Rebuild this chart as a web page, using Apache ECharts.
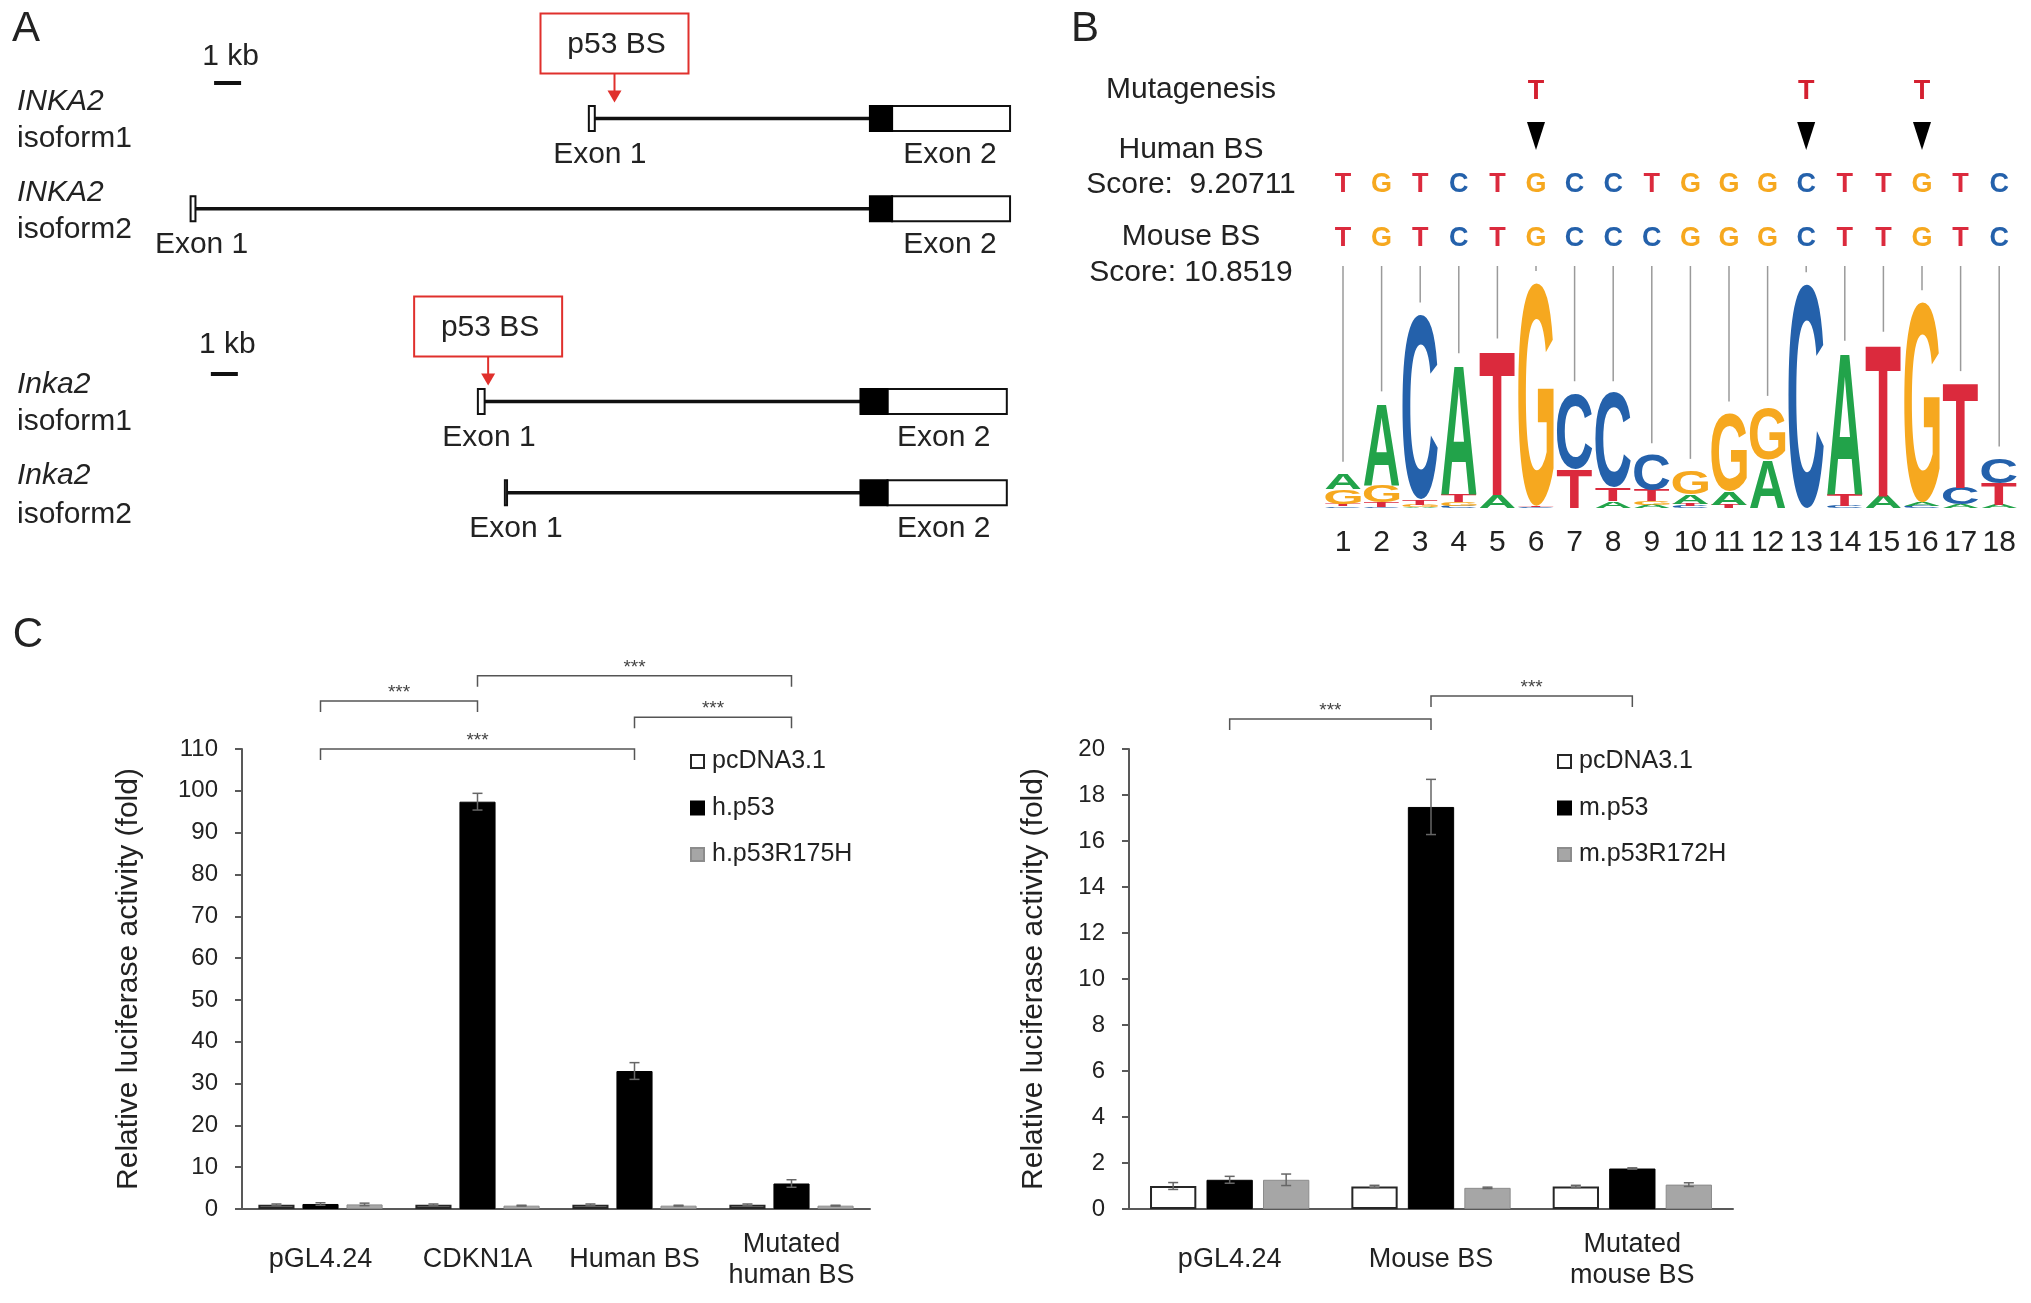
<!DOCTYPE html>
<html>
<head>
<meta charset="utf-8">
<title>INKA2 p53 binding site</title>
<script src="https://cdn.jsdelivr.net/npm/echarts@6/dist/echarts.min.js"></script>
<style>
  html, body { margin: 0; padding: 0; background: #fff; }
  #chart { width: 2031px; height: 1303px; }
</style>
</head>
<body>
<div id="chart"></div>
<script>
// ---------- panel A: gene structures, positions in kb ----------
const trackGene = ['INKA2', 'INKA2', 'Inka2', 'Inka2'];
const trackIsoform = ['isoform1', 'isoform2', 'isoform1', 'isoform2'];
const exon1Start = [14.75, 0, 10.64, 11.64];
const exon1Len = [0.22, 0.18, 0.25, 0.08];
const exon2Start = [25.16, 25.16, 24.81, 24.81];
const cdsEnd = [25.98, 25.98, 25.81, 25.81];
const exon2End = [30.35, 30.35, 30.23, 30.23];
const bsTrack = [0, 2];
const bsKb = [15.7, 11.02];
const scaleBarStart = [0.87, 0.75];
const scaleBarKb = 1;

// ---------- panel B: binding site logo ----------
const positions = ['1', '2', '3', '4', '5', '6', '7', '8', '9', '10', '11', '12', '13', '14', '15', '16', '17', '18'];
const humanSeq = ['T', 'G', 'T', 'C', 'T', 'G', 'C', 'C', 'T', 'G', 'G', 'G', 'C', 'T', 'T', 'G', 'T', 'C'];
const mouseSeq = ['T', 'G', 'T', 'C', 'T', 'G', 'C', 'C', 'C', 'G', 'G', 'G', 'C', 'T', 'T', 'G', 'T', 'C'];
const mutPos = [6, 13, 16];
const mutBase = 'T';
// letter heights (bits) per position
const logoA = [0.14, 0.73, 0.01, 1.15, 0.12, 0, 0, 0.06, 0.03, 0.08, 0.12, 0.43, 0, 1.26, 0.11, 0.03, 0.03, 0.03];
const logoC = [0.015, 0.01, 1.64, 0.02, 0, 0.01, 0.67, 0.84, 0.31, 0.02, 0, 0, 1.99, 0.02, 0, 0.02, 0.15, 0.22];
const logoG = [0.13, 0.15, 0.02, 0.03, 0, 1.98, 0, 0, 0.03, 0.21, 0.69, 0.46, 0, 0, 0, 1.78, 0, 0];
const logoT = [0.02, 0.04, 0.05, 0.07, 1.28, 0.01, 0.35, 0.12, 0.10, 0.02, 0.03, 0, 0, 0.10, 1.35, 0, 0.93, 0.19];

// ---------- panel C: luciferase assays ----------
const humanCats = ['pGL4.24', 'CDKN1A', 'Human BS', 'Mutated\nhuman BS'];
const hCtrl = [1.0, 1.0, 1.0, 1.0];
const hCtrlErr = [0.2, 0.2, 0.2, 0.2];
const hP53 = [1.2, 97.4, 33.0, 6.1];
const hP53Err = [0.3, 2.0, 2.0, 0.9];
const hMut = [1.1, 0.8, 0.8, 0.8];
const hMutErr = [0.3, 0.1, 0.1, 0.1];
const hBrFrom = [0, 1, 2, 0];
const hBrTo = [1, 3, 3, 2];
const hBrY = [121.5, 127.5, 117.6, 110];

const mouseCats = ['pGL4.24', 'Mouse BS', 'Mutated\nmouse BS'];
const mCtrl = [1.0, 0.98, 0.98];
const mCtrlErr = [0.15, 0.05, 0.05];
const mP53 = [1.27, 17.48, 1.76];
const mP53Err = [0.15, 1.2, 0.03];
const mMut = [1.27, 0.92, 1.06];
const mMutErr = [0.25, 0.03, 0.08];
const mBrFrom = [0, 1];
const mBrTo = [1, 2];
const mBrY = [21.3, 22.3];

const hTicks = { min: 0, max: 110, interval: 10 };
const mTicks = { min: 0, max: 20, interval: 2 };

// ---------- layout / style ----------
const FONT = '"Liberation Sans", Arial, sans-serif';
const TXT = '#222';
const TRACK_Y = [118.6, 208.8, 401.5, 492.7];
const SCALE_Y = [83, 374];
const SCALE_TEXT_Y = [57, 345];
const LETTER_COLOR = { A: '#22a34a', C: '#2461ab', G: '#f6a81f', T: '#db2a3d' };
const LETTERS = ['A', 'C', 'G', 'T'];
const LOGO_FONT = 'bold 100px ' + FONT;
const BAR_W = 0.23;
const BAR_GAP = 0.22;
const ERR_COLOR = '#666';

const chart = echarts.init(document.getElementById('chart'), null, { renderer: 'canvas' });

function txt(text, x, y, font, align, fill) {
  return {
    type: 'text', x: x, y: y,
    style: { text: text, font: font, fill: fill || TXT, textAlign: align || 'center', textVerticalAlign: 'middle' }
  };
}

// ink box of a glyph drawn with centre / middle alignment
const glyphCache = {};
function glyphBox(L) {
  if (!glyphCache[L]) {
    const ctx = document.createElement('canvas').getContext('2d');
    ctx.font = LOGO_FONT;
    ctx.textBaseline = 'middle';
    ctx.textAlign = 'center';
    const m = ctx.measureText(L);
    glyphCache[L] = {
      l: m.actualBoundingBoxLeft, r: m.actualBoundingBoxRight,
      a: m.actualBoundingBoxAscent, d: m.actualBoundingBoxDescent
    };
  }
  return glyphCache[L];
}

function renderGene(params, api) {
  const t = api.value(5);
  const y = TRACK_Y[t];
  const h = 25;
  const x1 = api.coord([api.value(0), 0])[0];
  const x1e = api.coord([api.value(0) + api.value(1), 0])[0];
  const x2 = api.coord([api.value(2), 0])[0];
  const xc = api.coord([api.value(3), 0])[0];
  const x3 = api.coord([api.value(4), 0])[0];
  return {
    type: 'group',
    children: [
      { type: 'line', shape: { x1: x1e, y1: y, x2: x2, y2: y }, style: { stroke: '#111', lineWidth: 3.5, fill: 'none' } },
      { type: 'rect', shape: { x: x1, y: y - h / 2, width: Math.max(x1e - x1, 2), height: h }, style: { fill: '#fff', stroke: '#111', lineWidth: 2 } },
      { type: 'rect', shape: { x: xc, y: y - h / 2, width: x3 - xc, height: h }, style: { fill: '#fff', stroke: '#111', lineWidth: 2 } },
      { type: 'rect', shape: { x: x2, y: y - h / 2, width: xc - x2, height: h }, style: { fill: '#000', stroke: '#000', lineWidth: 2 } },
      txt('Exon 1', x1 + 11, y + 36, '30px ' + FONT),
      txt('Exon 2', (x2 + x3) / 2 + 10, y + 36, '30px ' + FONT)
    ]
  };
}

function renderBS(params, api) {
  const x = api.coord([api.value(0), 0])[0];
  const y = TRACK_Y[api.value(1)];
  const boxBottom = y - 45;
  const tip = y - 16;
  return {
    type: 'group',
    children: [
      { type: 'rect', shape: { x: x - 74, y: boxBottom - 60, width: 148, height: 60 }, style: { fill: '#fff', stroke: '#e0302c', lineWidth: 2 } },
      txt('p53 BS', x + 2, boxBottom - 29, '30px ' + FONT),
      { type: 'line', shape: { x1: x, y1: boxBottom, x2: x, y2: tip - 10 }, style: { stroke: '#e0302c', lineWidth: 2, fill: 'none' } },
      { type: 'polygon', shape: { points: [[x - 7, tip - 12], [x + 7, tip - 12], [x, tip]] }, style: { fill: '#e0302c' } }
    ]
  };
}

function renderScale(params, api) {
  const a = api.coord([api.value(0), 0])[0];
  const b = api.coord([api.value(1), 0])[0];
  const i = api.value(2);
  return {
    type: 'group',
    children: [
      { type: 'line', shape: { x1: a, y1: SCALE_Y[i], x2: b, y2: SCALE_Y[i] }, style: { stroke: '#111', lineWidth: 4, fill: 'none' } },
      txt('1 kb', (a + b) / 2 + 3, SCALE_TEXT_Y[i], '30px ' + FONT)
    ]
  };
}

function renderLogo(params, api) {
  const idx = api.value(0);
  const stack = LETTERS.map(function (L, k) { return { L: L, h: api.value(k + 1) }; })
    .filter(function (s) { return s.h > 0.004; })
    .sort(function (a, b) { return a.h - b.h; });
  const colW = api.size([1, 0])[0];
  const w = colW * 0.92;
  let acc = 0;
  const children = [];
  stack.forEach(function (s) {
    const pBot = api.coord([idx, acc]);
    const pTop = api.coord([idx, acc + s.h]);
    acc += s.h;
    const g = glyphBox(s.L);
    const sx = w / (g.l + g.r);
    const sy = (pBot[1] - pTop[1]) / (g.a + g.d);
    const cy = (pBot[1] + pTop[1]) / 2;
    children.push({
      type: 'text',
      x: pBot[0] - sx * (g.r - g.l) / 2,
      y: cy - sy * (g.d - g.a) / 2,
      scaleX: sx, scaleY: sy,
      style: { text: s.L, font: LOGO_FONT, fill: LETTER_COLOR[s.L], textAlign: 'center', textVerticalAlign: 'middle' }
    });
  });
  return { type: 'group', children: children };
}

function renderSeq(params, api) {
  const idx = api.value(0);
  const total = logoA[idx] + logoC[idx] + logoG[idx] + logoT[idx];
  const top = api.coord([idx, total]);
  const x = top[0];
  const h = humanSeq[idx], m = mouseSeq[idx];
  const children = [
    txt(h, x, 185, 'bold 27px ' + FONT, 'center', LETTER_COLOR[h]),
    txt(m, x, 239, 'bold 27px ' + FONT, 'center', LETTER_COLOR[m]),
    { type: 'line', shape: { x1: x, y1: 266, x2: x, y2: top[1] - 12 }, style: { stroke: '#9a9a9a', lineWidth: 1.5, fill: 'none' } }
  ];
  if (mutPos.indexOf(idx + 1) >= 0) {
    children.push(txt(mutBase, x, 92, 'bold 27px ' + FONT, 'center', '#d42030'));
    children.push({ type: 'polygon', shape: { points: [[x - 9, 122], [x + 9, 122], [x, 150]] }, style: { fill: '#000' } });
  }
  return { type: 'group', children: children };
}

function errRender(slot) {
  return function (params, api) {
    const c = api.value(0), v = api.value(1), e = api.value(2);
    const band = api.size([1, 0])[0];
    const off = (slot - 1) * band * BAR_W * (1 + BAR_GAP);
    const hi = api.coord([c, v + e]);
    const lo = api.coord([c, v - e]);
    const x = hi[0] + off, cap = 5;
    const st = { stroke: ERR_COLOR, lineWidth: 1.5, fill: 'none' };
    return {
      type: 'group',
      children: [
        { type: 'line', shape: { x1: x, y1: hi[1], x2: x, y2: lo[1] }, style: st },
        { type: 'line', shape: { x1: x - cap, y1: hi[1], x2: x + cap, y2: hi[1] }, style: st },
        { type: 'line', shape: { x1: x - cap, y1: lo[1], x2: x + cap, y2: lo[1] }, style: st }
      ]
    };
  };
}

function renderBracket(params, api) {
  const a = api.coord([api.value(0), api.value(2)]);
  const b = api.coord([api.value(1), api.value(2)]);
  const leg = 11;
  return {
    type: 'group',
    children: [
      { type: 'polyline', shape: { points: [[a[0], a[1] + leg], [a[0], a[1]], [b[0], b[1]], [b[0], b[1] + leg]] }, style: { stroke: '#555', lineWidth: 1.5, fill: 'none' } },
      txt('***', (a[0] + b[0]) / 2, a[1] - 8, '19px ' + FONT, 'center', '#444')
    ]
  };
}

function barAxes(cats, ticks, gi, name, gap) {
  return {
    x: {
      type: 'category', gridIndex: gi, data: cats,
      axisLine: { show: true, lineStyle: { color: '#595959', width: 2 } },
      axisTick: { show: false },
      axisLabel: { interval: 0, fontSize: 27, lineHeight: 31, margin: 51, verticalAlign: 'middle', color: TXT, fontFamily: FONT },
      splitLine: { show: false }
    },
    y: {
      type: 'value', gridIndex: gi, min: ticks.min, max: ticks.max, interval: ticks.interval,
      name: name, nameLocation: 'middle', nameGap: gap, nameMoveOverlap: false,
      nameTextStyle: { fontSize: 30, color: TXT, fontFamily: FONT },
      axisLine: { show: true, lineStyle: { color: '#595959', width: 2 } },
      axisTick: { show: true, inside: false, length: 7, lineStyle: { color: '#595959', width: 2 } },
      axisLabel: { fontSize: 24, color: TXT, margin: 24, fontFamily: FONT },
      splitLine: { show: false }
    }
  };
}

const hAx = barAxes(humanCats, hTicks, 2, 'Relative luciferase activity (fold)', 98);
const mAx = barAxes(mouseCats, mTicks, 3, 'Relative luciferase activity (fold)', 80);

function barSeries(name, vals, axis, style) {
  return {
    name: name, type: 'bar', xAxisIndex: axis, yAxisIndex: axis, data: vals,
    barWidth: (BAR_W * 100) + '%', barGap: (BAR_GAP * 100) + '%',
    itemStyle: style, silent: true, z: 2
  };
}

function errSeries(vals, errs, axis, slot) {
  return {
    type: 'custom', xAxisIndex: axis, yAxisIndex: axis, renderItem: errRender(slot), z: 4, silent: true,
    data: vals.map(function (v, i) { return [i, v, errs[i]]; })
  };
}

function bracketSeries(from, to, ys, axis) {
  return {
    type: 'custom', xAxisIndex: axis, yAxisIndex: axis, renderItem: renderBracket, silent: true, clip: false,
    encode: { x: [0, 1], y: 2 },
    data: from.map(function (f, i) { return [f, to[i], ys[i]]; })
  };
}

const whiteStyle = { color: '#fff', borderColor: '#262626', borderWidth: 2 };
const blackStyle = { color: '#000', borderColor: '#000', borderWidth: 1 };
const grayStyle = { color: '#a6a6a6', borderColor: '#8c8c8c', borderWidth: 1 };

const legendBase = {
  orient: 'vertical', top: 744, itemWidth: 13, itemHeight: 13, itemGap: 21.5,
  selectedMode: false, icon: 'rect',
  textStyle: { fontSize: 25, color: TXT, fontFamily: FONT, padding: [0, 0, 0, 3] }
};

const option = {
  backgroundColor: '#fff',
  animation: false,
  textStyle: { fontFamily: FONT },
  grid: [
    { left: 190.6, top: 0, width: 864, height: 560, outerBoundsMode: 'none' },
    { left: 1323.7, top: 283, width: 694.8, height: 225, outerBoundsMode: 'none' },
    { left: 242, top: 749, width: 628, height: 460, outerBoundsMode: 'none' },
    { left: 1129, top: 749, width: 604, height: 460, outerBoundsMode: 'none' }
  ],
  xAxis: [
    { type: 'value', gridIndex: 0, min: 0, max: 32, show: false },
    {
      type: 'category', gridIndex: 1, data: positions,
      axisLine: { show: false }, axisTick: { show: false }, splitLine: { show: false },
      axisLabel: { interval: 0, fontSize: 30, margin: 35, verticalAlign: 'middle', color: TXT, fontFamily: FONT }
    },
    hAx.x, mAx.x
  ],
  yAxis: [
    { type: 'value', gridIndex: 0, min: 0, max: 1, show: false },
    { type: 'value', gridIndex: 1, min: 0, max: 2, show: false },
    hAx.y, mAx.y
  ],
  legend: [
    Object.assign({}, legendBase, { left: 685, data: ['pcDNA3.1', 'h.p53', 'h.p53R175H'] }),
    Object.assign({}, legendBase, { left: 1552, data: ['pcDNA3.1', 'm.p53', 'm.p53R172H'] })
  ],
  graphic: [
    txt('A', 26, 29, '42px ' + FONT),
    txt('B', 1085, 29, '42px ' + FONT),
    txt('C', 28, 635, '42px ' + FONT),
    // track labels panel A
    txt(trackGene[0], 17, TRACK_Y[0] - 17, 'italic 30px ' + FONT, 'left'),
    txt(trackIsoform[0], 17, TRACK_Y[0] + 20, '30px ' + FONT, 'left'),
    txt(trackGene[1], 17, TRACK_Y[1] - 16, 'italic 30px ' + FONT, 'left'),
    txt(trackIsoform[1], 17, TRACK_Y[1] + 21, '30px ' + FONT, 'left'),
    txt(trackGene[2], 17, TRACK_Y[2] - 17, 'italic 30px ' + FONT, 'left'),
    txt(trackIsoform[2], 17, TRACK_Y[2] + 20, '30px ' + FONT, 'left'),
    txt(trackGene[3], 17, TRACK_Y[3] - 17, 'italic 30px ' + FONT, 'left'),
    txt(trackIsoform[3], 17, TRACK_Y[3] + 22, '30px ' + FONT, 'left'),
    // panel B row labels
    txt('Mutagenesis', 1191, 90, '30px ' + FONT),
    txt('Human BS', 1191, 150, '30px ' + FONT),
    txt('Score:  9.20711', 1191, 185, '30px ' + FONT),
    txt('Mouse BS', 1191, 237, '30px ' + FONT),
    txt('Score: 10.8519', 1191, 273, '30px ' + FONT)
  ],
  series: [
    {
      type: 'custom', xAxisIndex: 0, yAxisIndex: 0, renderItem: renderGene, silent: true, clip: false,
      encode: { x: [0, 2, 3, 4] },
      data: exon1Start.map(function (s, i) { return [s, exon1Len[i], exon2Start[i], cdsEnd[i], exon2End[i], i]; })
    },
    {
      type: 'custom', xAxisIndex: 0, yAxisIndex: 0, renderItem: renderBS, silent: true, clip: false,
      encode: { x: 0 },
      data: bsKb.map(function (k, i) { return [k, bsTrack[i]]; })
    },
    {
      type: 'custom', xAxisIndex: 0, yAxisIndex: 0, renderItem: renderScale, silent: true, clip: false,
      encode: { x: [0, 1] },
      data: scaleBarStart.map(function (s, i) { return [s, s + scaleBarKb, i]; })
    },
    {
      type: 'custom', xAxisIndex: 1, yAxisIndex: 1, renderItem: renderLogo, silent: true, clip: false,
      encode: { x: 0, y: [1, 2, 3, 4] },
      data: positions.map(function (p, i) { return [i, logoA[i], logoC[i], logoG[i], logoT[i]]; })
    },
    {
      type: 'custom', xAxisIndex: 1, yAxisIndex: 1, renderItem: renderSeq, silent: true, clip: false,
      encode: { x: 0 },
      data: positions.map(function (p, i) { return [i]; })
    },
    barSeries('pcDNA3.1', hCtrl, 2, whiteStyle),
    barSeries('h.p53', hP53, 2, blackStyle),
    barSeries('h.p53R175H', hMut, 2, grayStyle),
    errSeries(hCtrl, hCtrlErr, 2, 0),
    errSeries(hP53, hP53Err, 2, 1),
    errSeries(hMut, hMutErr, 2, 2),
    bracketSeries(hBrFrom, hBrTo, hBrY, 2),
    barSeries('pcDNA3.1', mCtrl, 3, whiteStyle),
    barSeries('m.p53', mP53, 3, blackStyle),
    barSeries('m.p53R172H', mMut, 3, grayStyle),
    errSeries(mCtrl, mCtrlErr, 3, 0),
    errSeries(mP53, mP53Err, 3, 1),
    errSeries(mMut, mMutErr, 3, 2),
    bracketSeries(mBrFrom, mBrTo, mBrY, 3)
  ]
};

chart.setOption(option);

window.addEventListener('resize', function () {
  chart.resize();
});
</script>
</body>
</html>
